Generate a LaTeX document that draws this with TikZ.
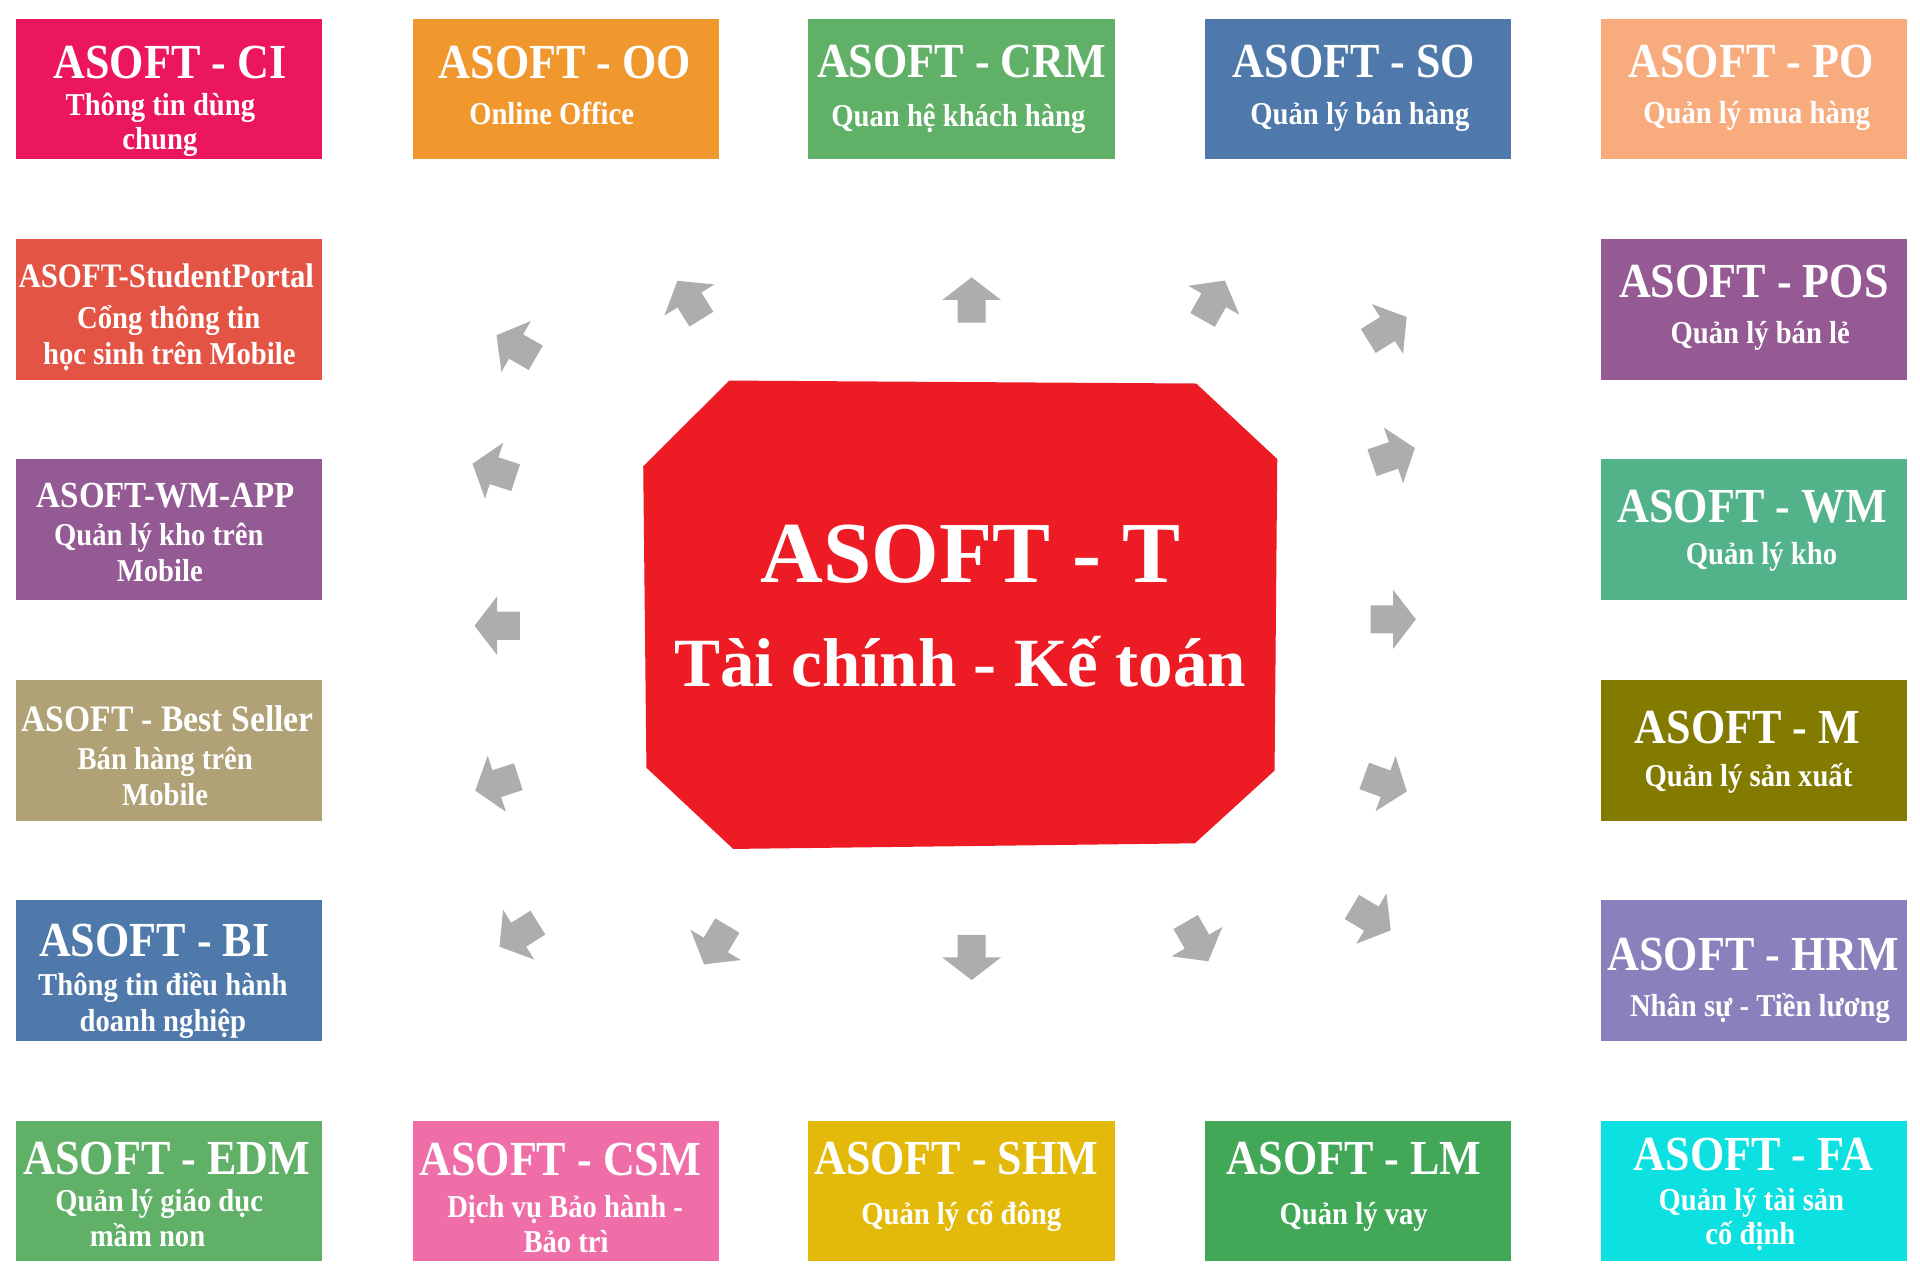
\documentclass[tikz,border=0pt]{standalone}
\usepackage{fontspec}
\setmainfont{Liberation Serif}
\newfontfamily\boxfont[FakeStretch=0.9]{Liberation Serif}
\definecolor{cCI}{HTML}{EC155F}
\definecolor{cOO}{HTML}{F0972E}
\definecolor{cCRM}{HTML}{61B067}
\definecolor{cSO}{HTML}{4E79AA}
\definecolor{cPO}{HTML}{F8AC7E}
\definecolor{cSP}{HTML}{E45445}
\definecolor{cPOS}{HTML}{955A93}
\definecolor{cWMA}{HTML}{935A94}
\definecolor{cWM}{HTML}{52B28A}
\definecolor{cBS}{HTML}{B0A276}
\definecolor{cM}{HTML}{837B00}
\definecolor{cBI}{HTML}{4E79AA}
\definecolor{cHRM}{HTML}{8881BC}
\definecolor{cEDM}{HTML}{61B067}
\definecolor{cCSM}{HTML}{EF6EA7}
\definecolor{cSHM}{HTML}{E3BA0A}
\definecolor{cLM}{HTML}{42A858}
\definecolor{cFA}{HTML}{0DE0E0}
\definecolor{cRed}{HTML}{ED1C24}
\definecolor{arrowgray}{HTML}{ADADAD}
\newcommand{\blockarr}[3]{\fill[arrowgray, shift={(#1,#2)}, rotate=#3] (-18.5,-11.5) -- (0,-11.5) -- (0,-24) -- (18.5,0) -- (0,24) -- (0,11.5) -- (-18.5,11.5) -- cycle;}
\begin{document}
\begin{tikzpicture}[x=1pt,y=-1pt,
  mbox/.style={rectangle, inner sep=0pt, minimum width=250pt, minimum height=115pt, anchor=north west, draw=none},
  ttl/.style={anchor=base, inner sep=0pt, text=white, font=\boxfont\bfseries\fontsize{40}{40}\selectfont},
  ttls/.style={anchor=base, inner sep=0pt, text=white, font=\boxfont\bfseries\fontsize{#1}{#1}\selectfont},
  sub/.style={anchor=base, inner sep=0pt, text=white, font=\boxfont\bfseries\fontsize{26}{26}\selectfont},
  ctr/.style={anchor=base, inner sep=0pt, text=white, font=\bfseries\fontsize{#1}{#1}\selectfont}]
\useasboundingbox (0,0) rectangle (1568,1040);

% boxes
\node[mbox, fill=cCI]  (ci)  at (13,15) {};
\node[mbox, fill=cOO]  (oo)  at (337,15) {};
\node[mbox, fill=cCRM] (crm) at (660,15) {};
\node[mbox, fill=cSO]  (so)  at (984,15) {};
\node[mbox, fill=cPO]  (po)  at (1307,15) {};
\node[mbox, fill=cSP]  (sp)  at (13,195) {};
\node[mbox, fill=cPOS] (pos) at (1307,195) {};
\node[mbox, fill=cWMA] (wma) at (13,375) {};
\node[mbox, fill=cWM]  (wm)  at (1307,375) {};
\node[mbox, fill=cBS]  (bs)  at (13,555) {};
\node[mbox, fill=cM]   (m)   at (1307,555) {};
\node[mbox, fill=cBI]  (bi)  at (13,735) {};
\node[mbox, fill=cHRM] (hrm) at (1307,735) {};
\node[mbox, fill=cEDM] (edm) at (13,915) {};
\node[mbox, fill=cCSM] (csm) at (337,915) {};
\node[mbox, fill=cSHM] (shm) at (660,915) {};
\node[mbox, fill=cLM]  (lm)  at (984,915) {};
\node[mbox, fill=cFA]  (fa)  at (1307,915) {};

% texts
\node[ttl] (ci-t) at (138.7,64) {ASOFT - CI};
\node[sub] (ci-s1) at (131,94) {Thông tin dùng};
\node[sub] (ci-s2) at (130.6,122.5) {chung};

\node[ttl] (oo-t) at (461.5,64) {ASOFT - OO};
\node[sub] (oo-s1) at (450.5,102) {Online Office};

\node[ttl] (crm-t) at (785.3,63.2) {ASOFT - CRM};
\node[sub] (crm-s1) at (782.7,103.5) {Quan hệ khách hàng};

\node[ttl] (so-t) at (1105.7,63) {ASOFT - SO};
\node[sub] (so-s1) at (1110.6,102) {Quản lý bán hàng};

\node[ttl] (po-t) at (1430,63) {ASOFT - PO};
\node[sub] (po-s1) at (1434.7,100.7) {Quản lý mua hàng};

\node[ttls=28] (sp-t) at (135.8,234.7) {ASOFT-StudentPortal};
\node[sub] (sp-s1) at (137.8,268) {Cổng thông tin};
\node[sub] (sp-s2) at (138.3,297.3) {học sinh trên Mobile};

\node[ttl] (pos-t) at (1432.3,243) {ASOFT - POS};
\node[sub] (pos-s1) at (1437.5,280.4) {Quản lý bán lẻ};

\node[ttls=30] (wma-t) at (135.3,414.3) {ASOFT-WM-APP};
\node[sub] (wma-s1) at (129.7,445.6) {Quản lý kho trên};
\node[sub] (wma-s2) at (130.5,475) {Mobile};

\node[ttl] (wm-t) at (1431,426.8) {ASOFT - WM};
\node[sub] (wm-s1) at (1438.5,461.4) {Quản lý kho};

\node[ttls=30.5] (bs-t) at (136.8,597.5) {ASOFT - Best Seller};
\node[sub] (bs-s1) at (134.9,628.8) {Bán hàng trên};
\node[sub] (bs-s2) at (134.9,658.2) {Mobile};

\node[ttl] (m-t) at (1427,607) {ASOFT - M};
\node[sub] (m-s1) at (1427.9,641.9) {Quản lý sản xuất};

\node[ttl] (bi-t) at (126,781.3) {ASOFT - BI};
\node[sub] (bi-s1) at (133,813.1) {Thông tin điều hành};
\node[sub] (bi-s2) at (133,842) {doanh nghiệp};

\node[ttl] (hrm-t) at (1431.8,792.7) {ASOFT - HRM};
\node[sub] (hrm-s1) at (1437.3,830.3) {Nhân sự - Tiền lương};

\node[ttl] (edm-t) at (136.3,958.8) {ASOFT - EDM};
\node[sub] (edm-s1) at (130,989) {Quản lý giáo dục};
\node[sub] (edm-s2) at (120.5,1018) {mầm non};

\node[ttl] (csm-t) at (457.5,960.1) {ASOFT - CSM};
\node[sub] (csm-s1) at (461.5,994.2) {Dịch vụ Bảo hành -};
\node[sub] (csm-s2) at (462.3,1022.7) {Bảo trì};

\node[ttl] (shm-t) at (781,958.8) {ASOFT - SHM};
\node[sub] (shm-s1) at (785,999.6) {Quản lý cổ đông};

\node[ttl] (lm-t) at (1105.8,958.8) {ASOFT - LM};
\node[sub] (lm-s1) at (1105.5,1000.4) {Quản lý vay};

\node[ttl] (fa-t) at (1432,956) {ASOFT - FA};
\node[sub] (fa-s1) at (1430.3,988.2) {Quản lý tài sản};
\node[sub] (fa-s2) at (1429.5,1016.7) {cố định};

% centre
\fill[cRed] (595.6,310.8) -- (976.9,313.2) -- (1043.1,374.9) -- (1040.9,629.3) -- (975.8,688.7) -- (598.8,693.3) -- (527.9,627) -- (525.3,380.8) -- cycle;
\node[ctr=71] (ct) at (792.8,475.7) {ASOFT - T};
\node[ctr=56.4] (cs) at (784.2,560.9) {Tài chính - Kế toán};

% arrows
\blockarr{793.5}{245}{90}
\blockarr{991.2}{245.2}{60.5}
\blockarr{1133.1}{268.7}{32}
\blockarr{1138}{371.9}{19}
\blockarr{1137.8}{505.8}{0}
\blockarr{1131.5}{640}{340}
\blockarr{1119.9}{750.2}{329}
\blockarr{977.5}{769}{300}
\blockarr{793.5}{781.9}{270}
\blockarr{584.5}{771.7}{239}
\blockarr{423.6}{763.3}{212}
\blockarr{405.7}{640}{198}
\blockarr{406}{511}{180}
\blockarr{403.5}{384.4}{162}
\blockarr{421.5}{283}{150}
\blockarr{563}{245}{122}
\end{tikzpicture}
\end{document}
